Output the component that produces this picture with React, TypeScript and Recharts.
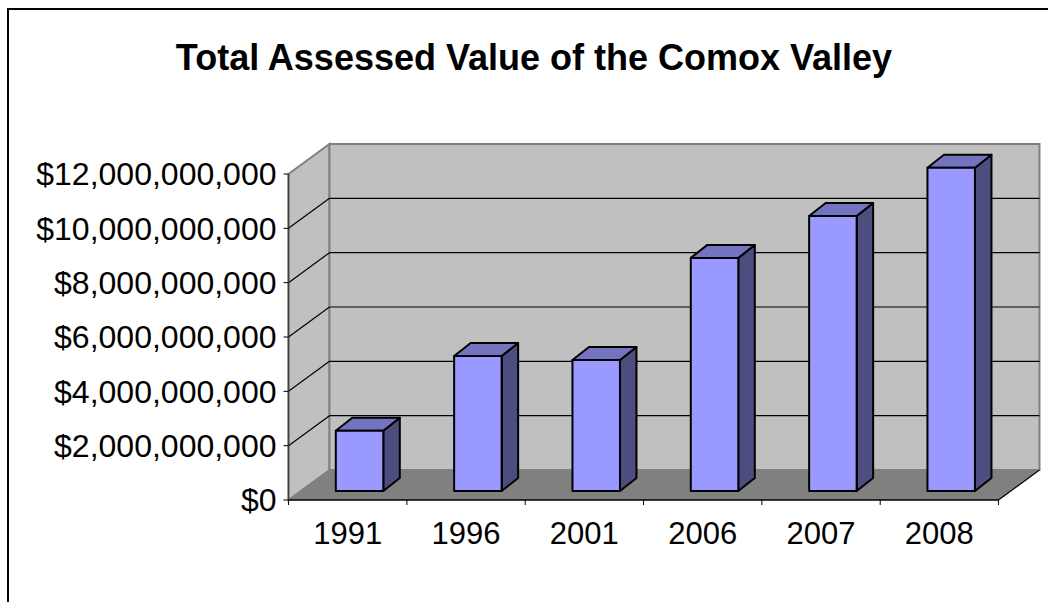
import React from 'react';
import { BarChart, Bar, XAxis, YAxis, CartesianGrid, usePlotArea } from 'recharts';

const years = ['1991', '1996', '2001', '2006', '2007', '2008'];
const assessedValues = [2220000000, 4970000000, 4820000000, 8580000000, 10120000000, 11900000000];
const yTicks = [0, 2000000000, 4000000000, 6000000000, 8000000000, 10000000000, 12000000000];

const FONT = '"Liberation Sans", Arial, sans-serif';
// offset of the back wall from the front plane
const DEPTH_X = 41;
const DEPTH_Y = 30;
// bars stand a little way in from the front edge of the floor
const BAR_IN_X = 12.3;
const BAR_IN_Y = 9;
const BAR_DX = 16.5;
const BAR_DY = 13;

const data = years.map((year, i) => ({ year, value: assessedValues[i] }));

const formatMoney = (v: number) => '$' + v.toLocaleString('en-US');

const pts = (list: number[][]) => list.map((p) => p.join(',')).join(' ');

// walls and floor behind the plot
const Walls = () => {
  const plot = usePlotArea();
  if (!plot) return null;
  const { x, y, width, height } = plot;
  const r = x + width;
  const b = y + height;
  return (
    <g>
      <polygon
        points={pts([[x, y], [x + DEPTH_X, y - DEPTH_Y], [x + DEPTH_X, b - DEPTH_Y], [x, b]])}
        fill="#c0c0c0"
        stroke="#808080"
        strokeWidth={2}
      />
      <rect x={x + DEPTH_X} y={y - DEPTH_Y} width={width} height={height} fill="#c0c0c0" stroke="#808080" strokeWidth={2} />
      <polygon
        points={pts([[x, b], [x + DEPTH_X, b - DEPTH_Y], [r + DEPTH_X, b - DEPTH_Y], [r, b]])}
        fill="#808080"
      />
    </g>
  );
};

const Title = () => (
  <text x={534} y={70} textAnchor="middle" fontFamily={FONT} fontWeight="bold" fontSize={36} fill="#000">
    Total Assessed Value of the Comox Valley
  </text>
);

// each gridline runs along the side wall and then across the back wall
// the bottom line comes first, so the walls are painted there, under the others
const GridLine = (props: any) => {
  const { x1, x2, y1 } = props;
  if (y1 === undefined) return <g />;
  if (Math.abs(y1 - 500) < 1) return <Walls />;
  if (Math.abs(y1 - 174) < 1) return <g />;
  return (
    <g>
      <line x1={x1} y1={y1} x2={x1 + DEPTH_X} y2={y1 - DEPTH_Y} stroke="#000" strokeWidth={1.2} />
      <line x1={x1 + DEPTH_X} y1={y1 - DEPTH_Y} x2={x2 + DEPTH_X} y2={y1 - DEPTH_Y} stroke="#000" strokeWidth={1.2} />
    </g>
  );
};

const Box3D = (props: any) => {
  const { x, y, width, height } = props;
  const l = x + BAR_IN_X;
  const r = l + width;
  const t = y - BAR_IN_Y;
  const b = t + height;
  return (
    <g stroke="#000" strokeWidth={2} strokeLinejoin="round">
      <polygon points={pts([[r, t], [r + BAR_DX, t - BAR_DY], [r + BAR_DX, b - BAR_DY], [r, b]])} fill="#4d4d80" />
      <polygon points={pts([[l, t], [l + BAR_DX, t - BAR_DY], [r + BAR_DX, t - BAR_DY], [r, t]])} fill="#7373bf" />
      <rect x={l} y={t} width={width} height={height} fill="#9999ff" />
    </g>
  );
};

const XTick = (props: any) => {
  const { x, payload, index } = props;
  const band = 709.5 / years.length;
  return (
    <g>
      <line x1={x - band / 2} y1={500} x2={x - band / 2} y2={505} stroke="#000" strokeWidth={1} />
      {index === years.length - 1 && (
        <>
          <line x1={x + band / 2} y1={500} x2={x + band / 2} y2={505} stroke="#000" strokeWidth={1} />
          <line x1={x + band / 2} y1={500} x2={x + band / 2 + DEPTH_X} y2={500 - DEPTH_Y} stroke="#000" strokeWidth={1.2} />
        </>
      )}
      <text x={x} y={544} textAnchor="middle" fontFamily={FONT} fontSize={31} fill="#000">
        {payload.value}
      </text>
    </g>
  );
};

export default function App() {
  return (
    <div style={{ position: 'absolute', left: 0, top: 0, width: 1048, height: 602, background: '#fff', overflow: 'hidden' }}>
      <div style={{ position: 'absolute', left: 7, top: 8, right: 0, bottom: 0, borderLeft: '2px solid #000', borderTop: '2px solid #000' }} />
      <div style={{ position: 'absolute', left: 0, top: 0 }}>
        <BarChart
          width={1048}
          height={602}
          data={data}
          margin={{ top: 174, right: 49.5, bottom: 72, left: 0 }}
          barSize={47.5}
        >
          <CartesianGrid vertical={false} horizontal={(p: any) => <GridLine key={p.key} {...p} />} />
          <XAxis dataKey="year" axisLine={{ stroke: '#000', strokeWidth: 1.5 }} tickLine={false} tick={XTick} interval={0} />
          <YAxis
            type="number"
            domain={[0, 12000000000]}
            ticks={yTicks}
            width={288.5}
            tickFormatter={formatMoney}
            axisLine={{ stroke: '#404040', strokeWidth: 1.5 }}
            tickLine={{ stroke: '#000', strokeWidth: 1 }}
            tickSize={5}
            tickMargin={7}
            interval={0}
            tick={{ fontFamily: FONT, fontSize: 32, fill: '#000' }}
          />
          <Bar dataKey="value" shape={Box3D} isAnimationActive={false} />
          <Title />
        </BarChart>
      </div>
    </div>
  );
}
